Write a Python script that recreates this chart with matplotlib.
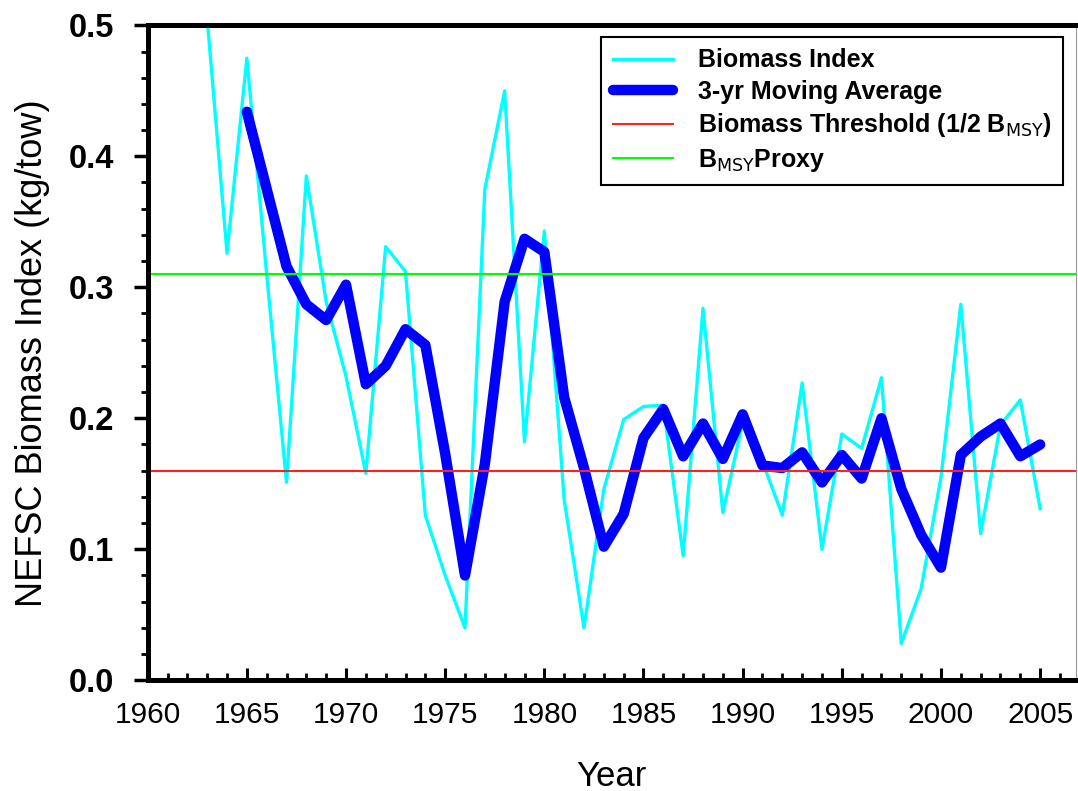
import matplotlib.pyplot as plt
from matplotlib.ticker import MultipleLocator

plt.rcParams['font.family'] = ['Liberation Sans', 'DejaVu Sans']
plt.rcParams['mathtext.fontset'] = 'custom'
plt.rcParams['mathtext.rm'] = 'Liberation Sans:bold'
plt.rcParams['mathtext.bf'] = 'Liberation Sans:bold'
plt.rcParams['mathtext.default'] = 'rm'

# biomass index, 1963-2005
index_years = list(range(1963, 2006))
index_vals = [0.505, 0.326, 0.475, 0.310, 0.151, 0.385, 0.289, 0.232, 0.158, 0.331,
              0.312, 0.126, 0.080, 0.040, 0.375, 0.450, 0.182, 0.343, 0.138, 0.040,
              0.146, 0.199, 0.209, 0.210, 0.095, 0.284, 0.128, 0.197, 0.167, 0.126,
              0.227, 0.100, 0.188, 0.177, 0.231, 0.028, 0.070, 0.155, 0.287, 0.112,
              0.195, 0.214, 0.131]

# 3-yr moving average, 1965-2005
ma_years = list(range(1965, 2006))
ma_vals = [0.434, 0.375, 0.316, 0.287, 0.275, 0.302, 0.226, 0.240, 0.268, 0.256,
           0.173, 0.080, 0.165, 0.289, 0.337, 0.327, 0.216, 0.162, 0.102, 0.127,
           0.185, 0.207, 0.171, 0.196, 0.169, 0.203, 0.164, 0.162, 0.174, 0.151,
           0.172, 0.154, 0.200, 0.146, 0.111, 0.086, 0.172, 0.186, 0.196, 0.171,
           0.180]

threshold = 0.16
bmsy_proxy = 0.31


def main():
    fig = plt.figure(figsize=(10.78, 7.91), dpi=100)
    ax = fig.add_axes([0.137, 0.140, 0.861, 0.828])

    ax.plot(index_years, index_vals, color='#00FFFF', lw=2.4, label='Biomass Index')
    ax.plot(ma_years, ma_vals, color='#0000FF', lw=7.5, solid_joinstyle='round',
            solid_capstyle='round', label='3-yr Moving Average')
    ax.axhline(threshold, color='#FF2020', lw=1.5,
               label=r'Biomass Threshold (1/2 B$_{\mathsf{MSY}}$)')
    ax.axhline(bmsy_proxy, color='#00FF00', lw=1.5, label=r'B$_{\mathsf{MSY}}$Proxy')

    ax.set_xlim(1960, 2006.8)
    ax.set_ylim(0, 0.5)

    ax.xaxis.set_major_locator(MultipleLocator(5))
    ax.xaxis.set_minor_locator(MultipleLocator(1))
    ax.yaxis.set_major_locator(MultipleLocator(0.1))
    ax.yaxis.set_minor_locator(MultipleLocator(0.02))
    ax.yaxis.set_major_formatter(lambda v, p: f'{v:.1f}')

    ax.tick_params(axis='x', which='major', direction='in', length=9, width=2.2,
                   labelsize=21.5, pad=15)
    ax.tick_params(axis='x', which='minor', direction='in', length=5, width=2)
    ax.tick_params(axis='y', which='major', direction='out', length=10, width=2.5,
                   labelsize=23.5, pad=14)
    ax.tick_params(axis='y', which='minor', direction='out', length=5, width=2)
    for lab in ax.get_yticklabels():
        lab.set_fontweight('bold')

    for side in ['left', 'bottom', 'top']:
        ax.spines[side].set_linewidth(3.6)
    ax.spines['right'].set_linewidth(0.8)
    ax.spines['right'].set_color('#999999')

    ax.set_xlabel('Year', fontsize=25, labelpad=22)
    ax.set_ylabel('NEFSC Biomass Index (kg/tow)', fontsize=26, labelpad=14)

    leg = ax.legend(loc='upper right', bbox_to_anchor=(0.986, 0.982),
                    borderaxespad=0, fancybox=False, framealpha=1,
                    prop={'weight': 'bold', 'size': 18}, handlelength=2.4,
                    handletextpad=1.0, labelspacing=0.3, borderpad=0.45)
    leg.get_frame().set_edgecolor('black')
    leg.get_frame().set_linewidth(1.5)

    fig.savefig('out.png', dpi=100)


if __name__ == '__main__':
    main()
